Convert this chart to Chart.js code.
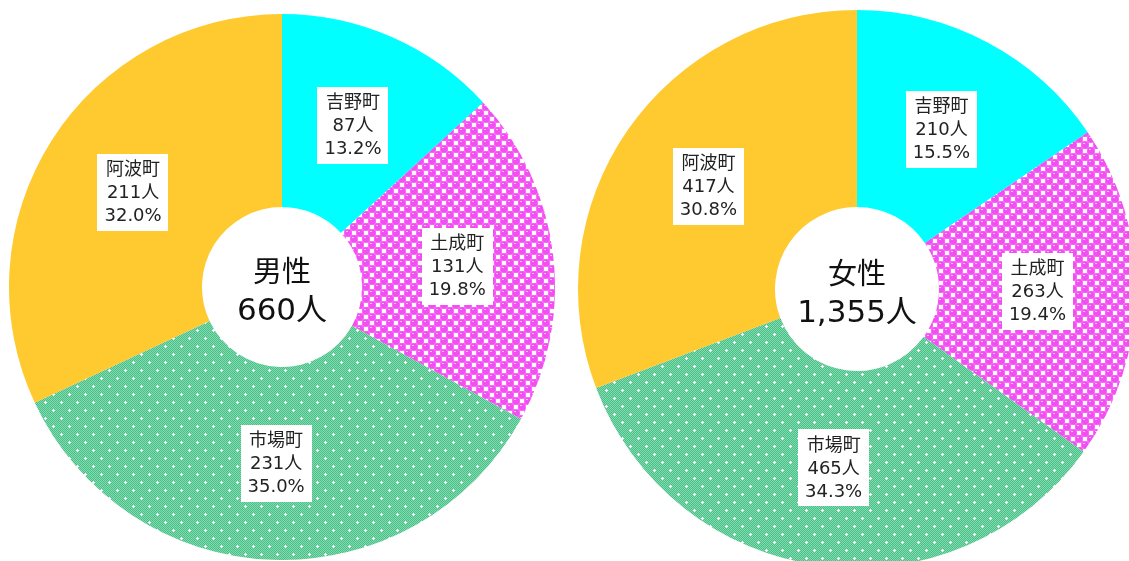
<!DOCTYPE html>
<html>
<head>
<meta charset="utf-8">
<script src="https://cdn.jsdelivr.net/npm/chart.js@4"></script>
<style>
  body { margin: 0; background: #fff; width: 1129px; height: 561px; overflow: hidden; position: relative; }
  .wrap { position: absolute; }
</style>
</head>
<body>
<div class="wrap" id="w1" style="left:9px;top:14px;width:546px;height:546px"><canvas id="male"></canvas></div>
<div class="wrap" id="w2" style="left:578px;top:10px;width:558px;height:558px"><canvas id="female"></canvas></div>
<script>
var towns = ["吉野町", "土成町", "市場町", "阿波町"];
var maleCounts = [87, 131, 231, 211];
var femaleCounts = [210, 263, 465, 417];
var maleTitle = "男性";
var femaleTitle = "女性";

var FONT = "'DejaVu Sans', 'Noto Sans CJK JP', sans-serif";

// pink bubble pattern
function pinkPattern() {
  var c = document.createElement("canvas");
  c.width = 12; c.height = 12;
  var g = c.getContext("2d");
  g.fillStyle = "#fd6afd";
  g.fillRect(0, 0, 12, 12);
  g.fillStyle = "#ffffff";
  g.fillRect(7, 1, 4, 4);
  g.fillRect(1, 7, 4, 4);
  [[3, 3], [9, 9]].forEach(function (p) {
    g.fillStyle = "#f050f0";
    g.beginPath(); g.arc(p[0], p[1], 3.4, 0, Math.PI * 2); g.fill();
    g.fillStyle = "#ffc4ff";
    g.fillRect(p[0] - 2, p[1] - 2, 2, 1);
  });
  return g.createPattern(c, "repeat");
}

// green dotted pattern
function greenPattern() {
  var c = document.createElement("canvas");
  c.width = 16; c.height = 16;
  var g = c.getContext("2d");
  for (var y = 0; y < 16; y++) {
    for (var x = 0; x < 16; x++) {
      g.fillStyle = (x + y) % 2 ? "#44c184" : "#88d9b1";
      g.fillRect(x, y, 1, 1);
    }
  }
  g.fillStyle = "#ffffff";
  [[4, 4], [12, 12]].forEach(function (p) {
    g.fillRect(p[0] - 1, p[1], 3, 1);
    g.fillRect(p[0], p[1] - 1, 1, 3);
  });
  return g.createPattern(c, "repeat");
}

var colors = ["#00ffff", null, null, "#ffc930"];

var labelPlugin = {
  id: "labels",
  afterDatasetsDraw: function (chart) {
    var ctx = chart.ctx;
    var meta = chart.getDatasetMeta(0);
    var data = chart.data.datasets[0].data;
    var total = data.reduce(function (a, b) { return a + b; }, 0);
    ctx.save();
    ctx.font = "18px " + FONT;
    ctx.textAlign = "center";
    ctx.textBaseline = "middle";
    meta.data.forEach(function (arc, i) {
      var p = arc.tooltipPosition();
      var lines = [towns[i], data[i] + "人", (data[i] / total * 100).toFixed(1) + "%"];
      var w = 0;
      lines.forEach(function (t) { w = Math.max(w, ctx.measureText(t).width); });
      var lh = 23;
      var bw = w + 14, bh = lh * 3 + 8;
      ctx.fillStyle = "#ffffff";
      ctx.fillRect(Math.round(p.x - bw / 2), Math.round(p.y - bh / 2), Math.round(bw), bh);
      ctx.fillStyle = "#222222";
      lines.forEach(function (t, k) {
        ctx.fillText(t, p.x, p.y + (k - 1) * lh + 1);
      });
    });
    // center text
    var cx = (chart.chartArea.left + chart.chartArea.right) / 2;
    var cy = (chart.chartArea.top + chart.chartArea.bottom) / 2;
    ctx.fillStyle = "#111111";
    ctx.font = "29px " + FONT;
    ctx.fillText(chart.options.plugins.centerTitle, cx, cy - 13);
    ctx.font = "31px " + FONT;
    ctx.fillText(total.toLocaleString("en-US") + "人", cx, cy + 25);
    ctx.restore();
  }
};

function makeChart(id, counts, title, hole) {
  var ctx = document.getElementById(id).getContext("2d");
  var fills = [colors[0], pinkPattern(), greenPattern(), colors[3]];
  return new Chart(ctx, {
    type: "doughnut",
    data: {
      labels: towns,
      datasets: [{
        data: counts,
        backgroundColor: fills,
        borderWidth: 0,
        hoverOffset: 0,
      }],
    },
    options: {
      responsive: true,
      maintainAspectRatio: false,
      animation: false,
      cutout: hole,
      layout: { padding: 0 },
      events: [],
      plugins: {
        legend: { display: false },
        tooltip: { enabled: false },
        centerTitle: title,
      },
    },
    plugins: [labelPlugin],
  });
}

makeChart("male", maleCounts, maleTitle, 80);
makeChart("female", femaleCounts, femaleTitle, 82);
</script>
</body>
</html>
